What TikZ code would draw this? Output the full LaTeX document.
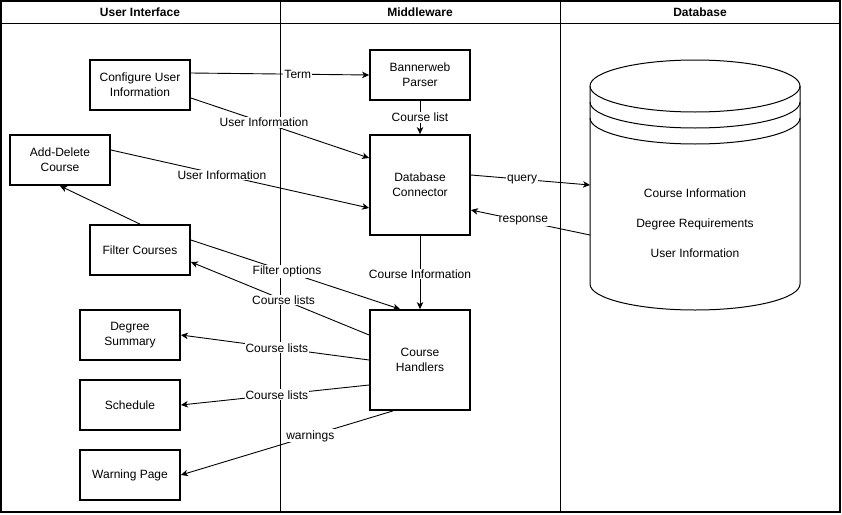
\documentclass[tikz,border=0pt]{standalone}
\usepackage{fontspec}
\setmainfont{Liberation Sans}
\usetikzlibrary{arrows.meta, positioning}

\begin{document}
\begin{tikzpicture}[x=1pt, y=-1pt,
	box/.style={draw, line width=1.8pt, minimum width=100pt, minimum height=50pt, inner sep=0pt, align=center, font=\fontsize{12}{15}\selectfont},
	bigbox/.style={box, minimum height=100pt},
	flow/.style={line width=0.9pt, -{Stealth[length=7pt, width=6.5pt, inset=2pt]}},
	lbl/.style={fill=white, inner sep=1pt, font=\fontsize{12}{14}\selectfont},
	lane/.style={font=\bfseries\fontsize{12}{14}\selectfont}]
	\useasboundingbox (0,0) rectangle (842,514);
	% swimlanes
	\draw[line width=1.5pt] (1,1) rectangle (840,512);
	\draw[line width=1pt] (1,23) -- (840,23);
	\draw[line width=1pt] (280,1) -- (280,512);
	\draw[line width=1pt] (560,1) -- (560,512);
	\node[lane] (ui) at (140,12) {User Interface};
	\node[lane] (mw) at (420,12) {Middleware};
	\node[lane] (dbl) at (700,12) {Database};
	% user interface
	\node[box] (cfg) at (140,85) {Configure User\\Information};
	\node[box] (add) at (60,160) {Add-Delete\\Course};
	\node[box] (filt) at (140,250) {Filter Courses};
	\node[box] (deg) at (130,335) {Degree\\Summary};
	\node[box] (sched) at (130,405) {Schedule};
	\node[box] (warn) at (130,475) {Warning Page};
	% middleware
	\node[box] (bw) at (420,75) {Bannerweb\\Parser};
	\node[bigbox] (dbc) at (420,185) {Database\\Connector};
	\node[bigbox] (ch) at (420,360) {Course\\Handlers};
	% database
	\draw[line width=1pt] (695,86) ellipse [x radius=105pt, y radius=26pt];
	\draw[line width=1pt] (590,102) arc [start angle=180, end angle=360, x radius=105pt, y radius=26pt];
	\draw[line width=1pt] (590,118) arc [start angle=180, end angle=360, x radius=105pt, y radius=26pt];
	\draw[line width=1pt] (590,86) -- (590,284) arc [start angle=180, end angle=360, x radius=105pt, y radius=26pt] -- (800,86);
	\node[font=\fontsize{12}{30}\selectfont, align=center] (dbtext) at (695,223) {Course Information\\Degree Requirements\\User Information};
	\coordinate (dbq) at (590,185);
	\coordinate (dbr) at (590,235);
	% connectors
	\draw[flow] ([yshift=12pt]cfg.east) -- node[lbl, pos=0.6] {Term} (bw.west);
	\draw[flow] ([yshift=-13pt]cfg.east) -- node[lbl, pos=0.41] {User Information} ([yshift=27pt]dbc.west);
	\draw[flow] ([yshift=10pt]add.east) -- node[lbl, pos=0.43] {User Information} ([yshift=-23pt]dbc.west);
	\draw[flow] (filt.north) -- (add.south);
	\draw[flow] ([yshift=10pt]filt.east) -- node[lbl, pos=0.46] {Filter options} ([xshift=-20pt]ch.north);
	\draw[flow] ([yshift=25pt]ch.west) -- node[lbl, pos=0.48] {Course lists} ([yshift=-12pt]filt.east);
	\draw[flow] (ch.west) -- node[lbl, pos=0.49] {Course lists} (deg.east);
	\draw[flow] ([yshift=-25pt]ch.west) -- node[lbl, pos=0.49] {Course lists} (sched.east);
	\draw[flow] ([xshift=-27pt]ch.south) -- node[lbl, pos=0.39] {warnings} (warn.east);
	\draw[flow] (bw.south) -- node[lbl] {Course list} (dbc.north);
	\draw[flow] (dbc.south) -- node[lbl, pos=0.52] {Course Information} (ch.north);
	\draw[flow] ([yshift=10pt]dbc.east) -- node[lbl, pos=0.43] {query} (dbq);
	\draw[flow] (dbr) -- node[lbl, pos=0.56] {response} ([yshift=-25pt]dbc.east);
\end{tikzpicture}
\end{document}
